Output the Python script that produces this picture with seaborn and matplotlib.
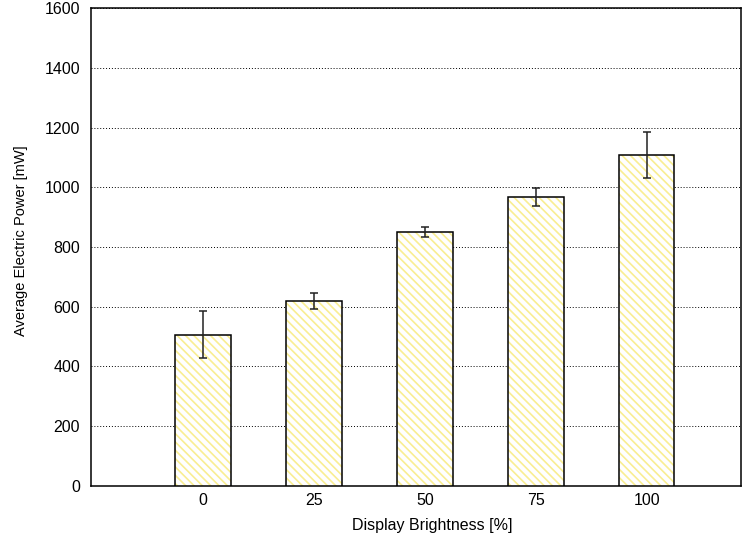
import numpy as np
import pandas as pd
import matplotlib
matplotlib.use('Agg')
import matplotlib.pyplot as plt
import seaborn as sns
from matplotlib.patches import Rectangle

# data
brightness = ['0', '25', '50', '75', '100']
power_mean = [507, 619, 851, 968, 1108]
power_err = [78, 28, 17, 30, 77]

sns.set_style('white')
plt.rcParams['font.family'] = ['Liberation Sans', 'DejaVu Sans']
plt.rcParams['hatch.linewidth'] = 1.2
plt.rcParams['text.color'] = 'black'
plt.rcParams['axes.labelcolor'] = 'black'
plt.rcParams['xtick.color'] = 'black'
plt.rcParams['ytick.color'] = 'black'

df = pd.DataFrame({'brightness': brightness, 'power': power_mean})

fig = plt.figure(figsize=(7.51, 5.38), dpi=100)
ax = fig.add_axes([0.1212, 0.0967, 0.8655, 0.8884])

sns.barplot(data=df, x='brightness', y='power', order=brightness,
            errorbar=None, width=0.5, color='white', ax=ax, zorder=3)

for p in ax.patches:
    p.set_facecolor('white')
    p.set_edgecolor('#f9ee92')
    p.set_linewidth(0)
    p.set_hatch('\\\\\\\\')
    ax.add_patch(Rectangle(p.get_xy(), p.get_width(), p.get_height(),
                           fill=False, edgecolor='black', linewidth=1.1, zorder=4))

ax.errorbar(np.arange(len(brightness)), power_mean, yerr=power_err, fmt='none',
            ecolor='#222222', elinewidth=1.1, capsize=2.6, capthick=1.1, zorder=5)

ax.set_xlim(-1.01, 4.85)
ax.set_ylim(0, 1600)
ax.set_yticks(range(0, 1601, 200))
ax.yaxis.grid(True, linestyle=(0, (1, 2)), color='black', linewidth=0.7)
ax.set_axisbelow(True)

for s in ax.spines.values():
    s.set_visible(True)
    s.set_color('black')
    s.set_linewidth(1.1)

ax.tick_params(axis='y', direction='in', length=5, width=1, labelsize=11.5, pad=8)
ax.tick_params(axis='x', length=0, labelsize=11.5, pad=5)
ax.set_xlabel('Display Brightness [%]', fontsize=11.5, labelpad=7)
ax.set_ylabel('Average Electric Power [mW]', fontsize=10.5, labelpad=12)
ax.xaxis.label.set_x(0.525)
ax.yaxis.label.set_y(0.513)

plt.savefig('out.png', dpi=100)
